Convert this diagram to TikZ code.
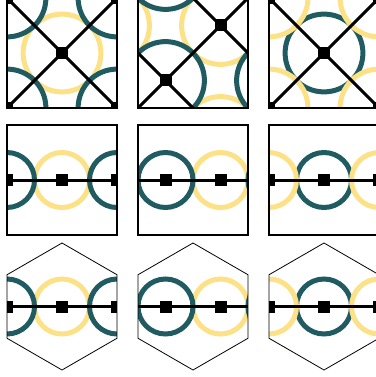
\documentclass[tikz,border=0pt]{standalone}
\usepackage{tikz}
\usetikzlibrary{calc}
\definecolor{ringteal}{RGB}{31,91,97}
\definecolor{ringyellow}{RGB}{253,225,134}

\begin{document}
\begin{tikzpicture}[
        x=1pt, y=-1pt,
        site/.style={rectangle, fill=black, minimum size=12pt, inner sep=0pt},
        bond/.style={line width=3pt, color=black},
        tring/.style={draw=ringteal, line width=5pt},
        yring/.style={draw=ringyellow, line width=5pt},
        sqcell/.style={insert path={(-55,-55) rectangle (55,55)}},
        hexcell/.style={insert path={(90:63.5) -- (30:63.5) -- (-30:63.5) -- (-90:63.5) -- (-150:63.5) -- (150:63.5) -- cycle}},
        sqframe/.style={draw=black, line width=2.2pt},
        hexframe/.style={draw=black, line width=0.8pt}
    ]
    \useasboundingbox (0,0) rectangle (375,377);

    % Square lattice, one site in the middle and one on the corners
    \foreach \n/\xc/\cmid/\cend in {1/62/yring/tring, 3/324/tring/yring} {
        \begin{scope}[shift={(\xc,53)}]
            \begin{scope}
                \clip[sqcell];
                \coordinate (q\n-0) at (0,0);
                \coordinate (q\n-1) at (-55,-55);
                \coordinate (q\n-2) at (55,-55);
                \coordinate (q\n-3) at (55,55);
                \coordinate (q\n-4) at (-55,55);
                \draw[\cmid] (q\n-0) circle[radius=38.9];
                \foreach \k in {1,...,4} \draw[\cend] (q\n-\k) circle[radius=38.9];
                \draw[bond] (q\n-1) -- (q\n-0) -- (q\n-3);
                \draw[bond] (q\n-2) -- (q\n-0) -- (q\n-4);
                \foreach \k in {0,...,4} \node[site] (sq\n-\k) at (q\n-\k) {};
            \end{scope}
            \draw[sqframe, sqcell];
        \end{scope}
    }

    % Square lattice, two sites on the diagonal
    \begin{scope}[shift={(193,53)}]
        \begin{scope}
            \clip[sqcell];
            \coordinate (ta) at (-27.5,27.5);
            \coordinate (ta1) at (82.5,27.5);
            \coordinate (ta2) at (-27.5,-82.5);
            \coordinate (ta3) at (82.5,-82.5);
            \coordinate (yb) at (27.5,-27.5);
            \coordinate (yb1) at (-82.5,-27.5);
            \coordinate (yb2) at (27.5,82.5);
            \coordinate (yb3) at (-82.5,82.5);
            \foreach \p in {yb,yb1,yb2,yb3} \draw[yring] (\p) circle[radius=38.9];
            \foreach \p in {ta,ta1,ta2,ta3} \draw[tring] (\p) circle[radius=38.9];
            \draw[bond] (yb3) -- (ta) -- (yb) -- (ta3);
            \draw[bond] (yb1) -- (ta) -- (yb2);
            \draw[bond] (ta2) -- (yb) -- (ta1);
            \node[site] (sq2-a) at (ta) {};
            \node[site] (sq2-b) at (yb) {};
        \end{scope}
        \draw[sqframe, sqcell];
    \end{scope}

    % Chains in a square and in a hexagonal cell
    \foreach \m/\yc/\cellst/\framest in {1/180/sqcell/sqframe, 2/306.5/hexcell/hexframe} {
        \foreach \n/\xc/\cmid/\cend in {1/62/yring/tring, 3/324/tring/yring} {
            \begin{scope}[shift={(\xc,\yc)}]
                \begin{scope}
                    \clip[\cellst];
                    \coordinate (c\m\n-0) at (0,0);
                    \coordinate (c\m\n-1) at (-55,0);
                    \coordinate (c\m\n-2) at (55,0);
                    \draw[\cmid] (c\m\n-0) circle[radius=27.5];
                    \draw[\cend] (c\m\n-1) circle[radius=27.5];
                    \draw[\cend] (c\m\n-2) circle[radius=27.5];
                    \draw[bond] (c\m\n-1) -- (c\m\n-0) -- (c\m\n-2);
                    \foreach \k in {0,1,2} \node[site] (s\m\n-\k) at (c\m\n-\k) {};
                \end{scope}
                \draw[\framest, \cellst];
            \end{scope}
        }
        \begin{scope}[shift={(193,\yc)}]
            \begin{scope}
                \clip[\cellst];
                \coordinate (c\m2-a) at (-27.5,0);
                \coordinate (c\m2-a1) at (82.5,0);
                \coordinate (c\m2-b) at (27.5,0);
                \coordinate (c\m2-b1) at (-82.5,0);
                \draw[yring] (c\m2-b) circle[radius=27.5];
                \draw[yring] (c\m2-b1) circle[radius=27.5];
                \draw[tring] (c\m2-a) circle[radius=27.5];
                \draw[tring] (c\m2-a1) circle[radius=27.5];
                \draw[bond] (c\m2-b1) -- (c\m2-a) -- (c\m2-b) -- (c\m2-a1);
                \node[site] (s\m2-a) at (c\m2-a) {};
                \node[site] (s\m2-b) at (c\m2-b) {};
            \end{scope}
            \draw[\framest, \cellst];
        \end{scope}
    }

\end{tikzpicture}
\end{document}
